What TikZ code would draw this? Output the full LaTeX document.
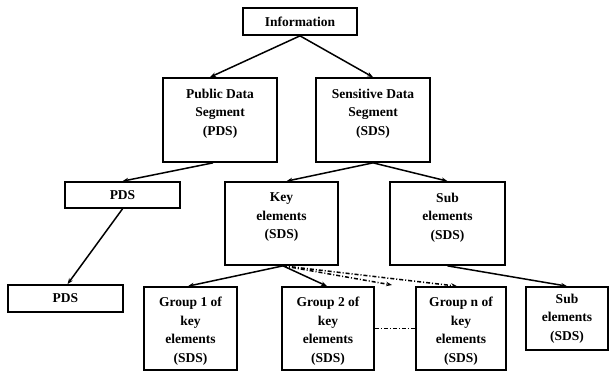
\documentclass[tikz,border=0pt]{standalone}
\usepackage{fontspec}
\setmainfont{Liberation Serif}
\usetikzlibrary{arrows.meta}
\newcommand{\tbox}[4]{\parbox[c][#2pt][t]{#1pt}{\centering\vspace*{#3pt}#4\par}}
\tikzset{
  box/.style={draw, line width=1.7pt, inner sep=0pt, font=\bfseries\fontsize{13.5}{18.5}\selectfont},
  onebox/.style={box, align=center},
  conn/.style={line width=1.5pt, -{Stealth[length=6pt,width=4.5pt]}},
  dd/.style={dash pattern=on 4pt off 2pt on 1pt off 2pt},
}
\begin{document}
\begin{tikzpicture}[x=1pt,y=-1pt]
\useasboundingbox (0,0) rectangle (609,372);
\fill[white] (0,0) rectangle (609,372);
\node[onebox, minimum width=114pt, minimum height=27pt] (info) at (300,21.5) {Information};
\node[box] (pub) at (220,120) {\tbox{114}{84}{11}{Public Data\\Segment\\(PDS)}};
\node[box] (sens) at (373,120) {\tbox{114}{84}{11}{Sensitive Data\\Segment\\(SDS)}};
\node[onebox, minimum width=115pt, minimum height=26pt] (pds2) at (122.5,195) {PDS};
\node[box] (key) at (281.5,223.5) {\tbox{113}{83}{11}{Key\\elements\\(SDS)}};
\node[box] (sub) at (447.5,223.5) {\tbox{115}{83}{11}{Sub\\elements\\(SDS)}};
\node[onebox, minimum width=115pt, minimum height=27pt] (pds3) at (65.5,298.5) {PDS};
\node[box] (g1) at (190.5,328.5) {\tbox{93}{83}{10}{Group 1 of\\key\\elements\\(SDS)}};
\node[box] (g2) at (328,328.5) {\tbox{92}{83}{10}{Group 2 of\\key\\elements\\(SDS)}};
\node[box] (gn) at (461,328.5) {\tbox{90}{83}{10}{Group n of\\key\\elements\\(SDS)}};
\node[box] (sub2) at (567,318.5) {\tbox{82}{63}{7}{Sub\\elements\\(SDS)}};
\coordinate (free) at (392,285);
\draw[conn] (info.south) -- ([xshift=-10pt]pub.north);
\draw[conn] (info.south) -- (sens.north);
\draw[conn] ([xshift=-7pt]pub.south) -- (pds2.north);
\draw[conn] (sens.south) -- ([xshift=5pt]key.north);
\draw[conn] (sens.south) -- (sub.north);
\draw[conn] (pds2.south) -- ([xshift=2pt]pds3.north);
\draw[conn] ([xshift=1.5pt]key.south) -- ([xshift=-2.5pt]g1.north);
\draw[conn] ([xshift=1.5pt]key.south) -- ([xshift=-1pt]g2.north);
\draw[conn,dd] ([xshift=1.5pt]key.south) -- (free);
\draw[conn,dd] ([xshift=1.5pt]key.south) -- ([xshift=-4pt]gn.north);
\draw[conn] (sub.south) -- (sub2.north);
\draw[dd, line width=1.5pt] (g2.east) -- (gn.west);
\end{tikzpicture}
\end{document}
